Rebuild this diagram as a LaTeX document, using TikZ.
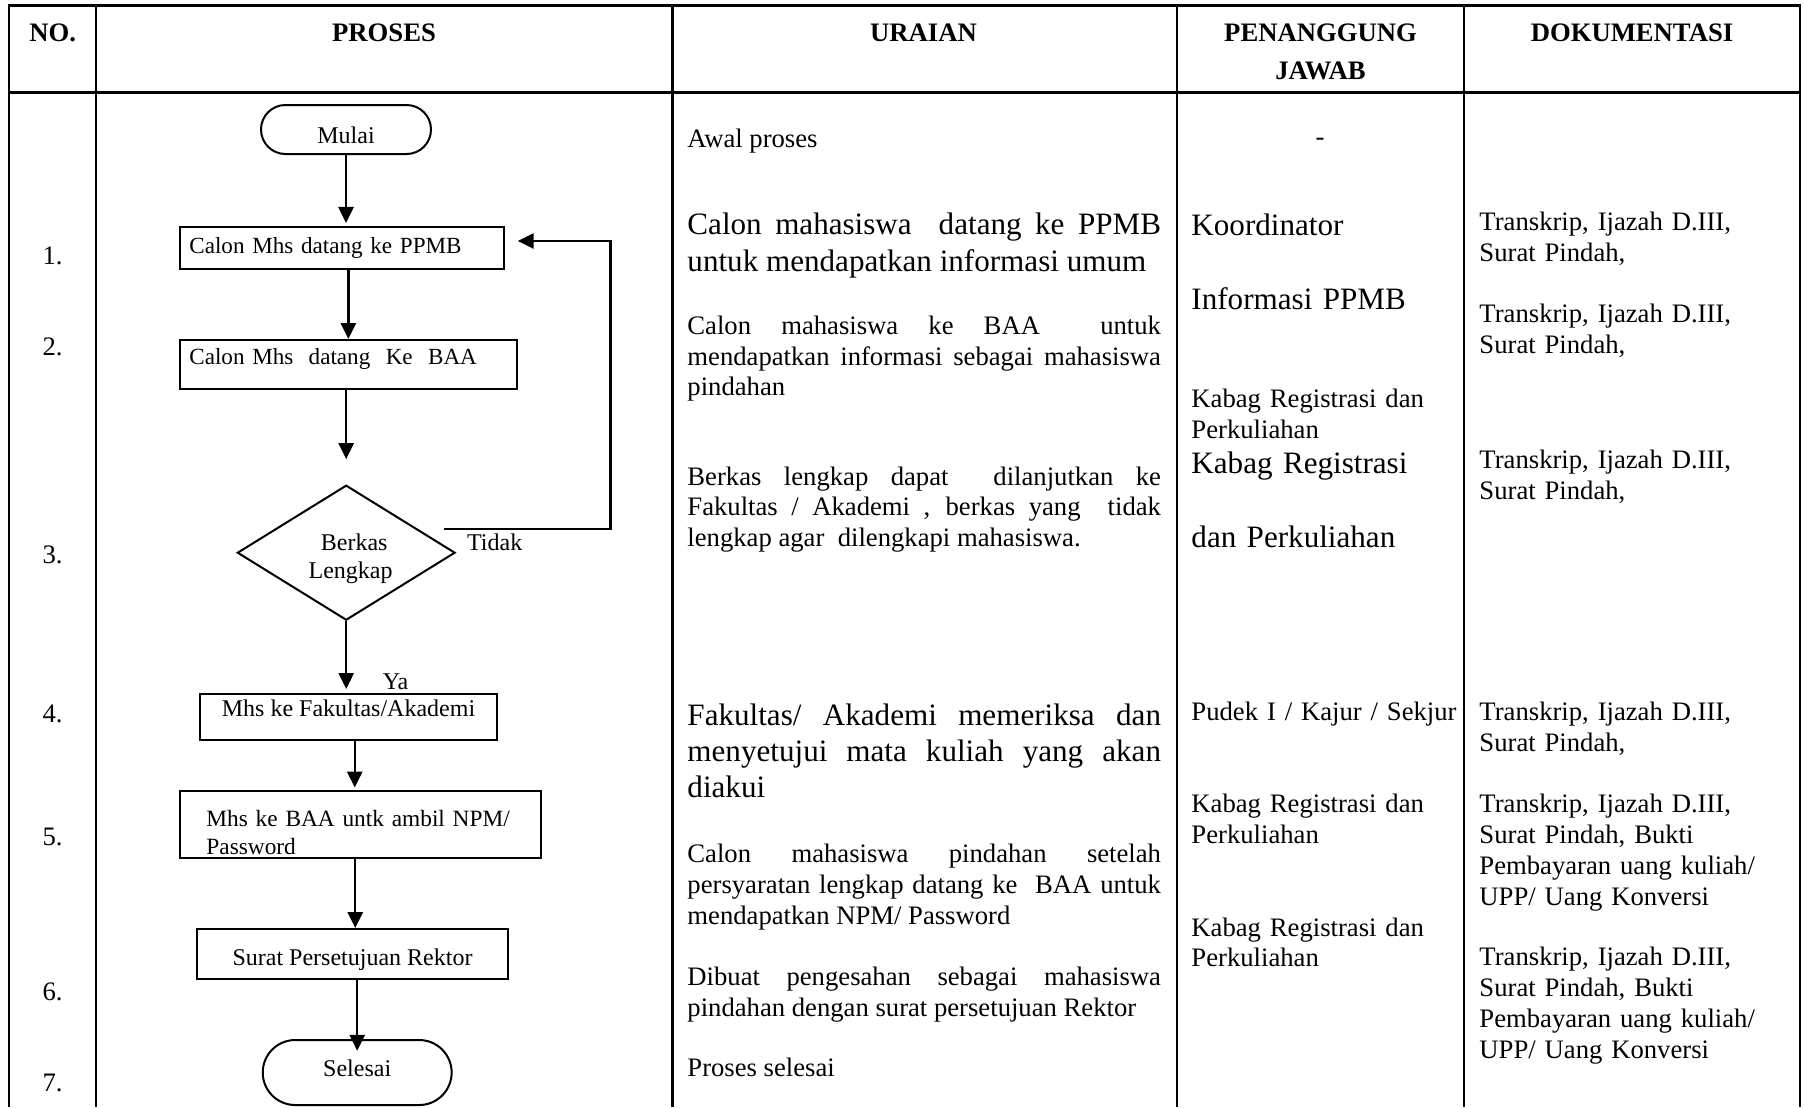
\documentclass[tikz,border=0pt]{standalone}
\usepackage{fontspec}
\setmainfont{Liberation Serif}
\usetikzlibrary{arrows.meta,shapes.geometric}
\tolerance=10000
\hbadness=10000
\tikzset{
  tline/.style={line width=1.2pt},
  fbox/.style={draw, line width=0.9pt, inner ysep=0pt, font=\fontsize{10.8}{12.7}\selectfont},
  termbox/.style={fbox, rounded corners=#1},
  flow/.style={line width=1.1pt, -{Triangle[length=7.2pt,width=6.8pt]}},
  numtxt/.style={anchor=base, inner sep=0pt, font=\fontsize{12}{13.9}\selectfont},
  headtxt/.style={anchor=base, inner sep=0pt, font=\bfseries\fontsize{12}{13.9}\selectfont},
  ptext/.style={anchor=base west, inner sep=0pt, align=justify, text width=213.1pt, font=\fontsize{12}{13.9}\selectfont},
  plarge/.style={ptext, font=\fontsize{14}{16.7}\selectfont},
  pjtxt/.style={anchor=base west, inner sep=0pt, align=left, text width=126pt, font=\fontsize{12}{13.9}\selectfont},
  pjlarge/.style={pjtxt, font=\fontsize{14}{16.7}\selectfont},
  doktxt/.style={anchor=base west, inner sep=0pt, align=left, text width=144pt, font=\fontsize{12}{13.9}\selectfont},
  flabel/.style={anchor=base west, inner sep=0pt, font=\fontsize{10.8}{12.7}\selectfont}
}
\begin{document}
\begin{tikzpicture}[x=0.45pt,y=-0.45pt]
\useasboundingbox (0,0) rectangle (1804,1107);

% table rules
\draw[tline] (9,1107) -- (9,5.7) -- (1800,5.7) -- (1800,1107);
\draw[tline] (9,92.3) -- (1800,92.3);
\draw[tline] (96,5.7) -- (96,1107);
\draw[tline] (672.5,5.7) -- (672.5,1107);
\draw[tline] (1177,5.7) -- (1177,1107);
\draw[tline] (1464,5.7) -- (1464,1107);

% headers
\node[headtxt] (hno) at (52.8,41.7) {NO.};
\node[headtxt] (hproses) at (384,41.7) {PROSES};
\node[headtxt] (huraian) at (923.5,41.7) {URAIAN};
\node[headtxt] (hpja) at (1320.5,41.7) {PENANGGUNG};
\node[headtxt] (hpjb) at (1320.5,79) {JAWAB};
\node[headtxt] (hdok) at (1632,41.7) {DOKUMENTASI};

% numbers
\node[numtxt] (n1) at (52.5,264.3) {1.};
\node[numtxt] (n2) at (52.5,355.3) {2.};
\node[numtxt] (n3) at (52.5,563.8) {3.};
\node[numtxt] (n4) at (52.5,722.1) {4.};
\node[numtxt] (n5) at (52.5,845.3) {5.};
\node[numtxt] (n6) at (52.5,1000.8) {6.};
\node[numtxt] (n7) at (52.5,1091.8) {7.};

% flowchart
\node[termbox=11pt, minimum width=76.5pt, minimum height=22.05pt, text height=12.4pt, text depth=0pt] (mulai) at (346,129.5) {Mulai};
\node[fbox, font=\fontsize{10.4}{12.5}\selectfont, minimum width=145.9pt, minimum height=18.8pt, text width=137.5pt, inner xsep=4.2pt, align=left, text height=8pt, text depth=3.2pt] (ppmb) at (342.15,248.15) {Calon Mhs datang ke PPMB};
\node[fbox, font=\fontsize{10.4}{12.5}\selectfont, minimum width=151.5pt, minimum height=22.05pt, text width=143.1pt, inner xsep=4.2pt, align=left, text height=5.5pt, text depth=5.1pt] (baa) at (348.35,364.5) {Calon Mhs\ \ datang\ \ Ke\ \ BAA};
\node[draw, diamond, aspect=1.6, line width=0.9pt, minimum width=98pt, minimum height=60.75pt, inner sep=0pt, text width=46pt, align=center, font=\fontsize{10.8}{12.4}\selectfont, text height=7.4pt, text depth=9.2pt] (dia) at (346.2,552.7) {\hspace*{7.2pt}Berkas\\\hspace*{4pt}Lengkap};
\node[fbox, minimum width=133.65pt, minimum height=20.7pt, text height=5pt, text depth=5.9pt] (fak) at (348.5,717) {Mhs ke Fakultas/Akademi};
\node[fbox, font=\fontsize{10.5}{12.7}\selectfont, minimum width=162.3pt, minimum height=30.4pt, text width=150.3pt, inner xsep=6pt, align=left, text height=14.7pt, text depth=12.7pt] (npm) at (360.35,824.5) {\hspace*{5.9pt}Mhs ke BAA untk ambil NPM/\\\hspace*{5.9pt}Password};
\node[fbox, minimum width=140.2pt, minimum height=22.6pt, text height=9.8pt, text depth=0pt] (rektor) at (352.5,954.15) {Surat Persetujuan Rektor};
\node[termbox=14.6pt, minimum width=85pt, minimum height=29.25pt, text height=7.4pt, text depth=4.2pt] (selesai) at (357.2,1072.5) {Selesai};

\node[flabel] (tidak) at (466.7,550.7) {Tidak};
\node[flabel] (ya) at (382.3,689.3) {Ya};

\draw[flow, shorten >=1.5pt] (mulai.south) -- (mulai.south |- ppmb.north);
\draw[flow] (baa.north |- ppmb.south) -- (baa.north);
\draw[flow, shorten >=11.25pt] (dia.north |- baa.south) -- (dia.north);
\draw[flow, shorten >=1.8pt] (dia.south) -- (dia.south |- fak.north);
\draw[flow, shorten >=1pt] ([xshift=2.8pt]fak.south) -- ([xshift=2.8pt]fak.south |- npm.north);
\draw[flow] ([xshift=-2.3pt]npm.south) -- ([xshift=-2.3pt]npm.south |- rektor.north);
\draw[flow, shorten >=-5.3pt] (rektor.south -| selesai.north) -- (selesai.north);

\coordinate (tstart) at (444.3,529);
\coordinate (tcorner) at (610.5,241);
\draw[flow, shorten >=5.6pt] (tstart) -| (tcorner) -- (tcorner -| ppmb.east);

% uraian
\node[ptext] (u0) at (687,147) {Awal proses};
\node[plarge] (u1) at (687,234.7) {Calon mahasiswa\ \ datang ke PPMB\linebreak untuk mendapatkan informasi umum};
\node[ptext] (u2) at (687,334.2) {Calon mahasiswa ke BAA\ \ untuk\linebreak mendapatkan informasi sebagai mahasiswa\linebreak pindahan};
\node[ptext] (u3) at (687,485) {Berkas lengkap dapat\ \ dilanjutkan ke\linebreak Fakultas / Akademi , berkas yang\ \ tidak\linebreak lengkap agar\ \ dilengkapi mahasiswa.};
\node[plarge, font=\fontsize{14}{16.25}\selectfont] (u4) at (687,725.7) {Fakultas/ Akademi memeriksa dan\linebreak menyetujui mata kuliah yang akan\linebreak diakui};
\node[ptext] (u5) at (687,862.3) {Calon mahasiswa pindahan setelah\linebreak persyaratan lengkap datang ke\ \ BAA untuk\linebreak mendapatkan NPM/ Password};
\node[ptext] (u6) at (687,985.5) {Dibuat pengesahan sebagai mahasiswa\linebreak pindahan dengan surat persetujuan Rektor};
\node[ptext] (u7) at (687,1076.3) {Proses selesai};

% penanggung jawab
\node[numtxt] (pj0) at (1320,145.7) {-};
\node[pjlarge] (pj1) at (1191,235.5) {Koordinator};
\node[pjlarge] (pj2) at (1191,309) {Informasi PPMB};
\node[pjtxt] (pj3) at (1191,407.9) {Kabag Registrasi dan\\Perkuliahan};
\node[pjlarge] (pj4) at (1191,473.5) {Kabag Registrasi};
\node[pjlarge] (pj5) at (1191,547.1) {dan Perkuliahan};
\node[pjtxt] (pj6) at (1191,720.8) {Pudek I / Kajur / Sekjur};
\node[pjtxt] (pj7) at (1191,812.9) {Kabag Registrasi dan\\Perkuliahan};
\node[pjtxt] (pj8) at (1191,936) {Kabag Registrasi dan\\Perkuliahan};

% dokumentasi
\node[doktxt] (d1) at (1479,230.7) {Transkrip, Ijazah D.III,\\Surat Pindah,};
\node[doktxt] (d2) at (1479,322.7) {Transkrip, Ijazah D.III,\\Surat Pindah,};
\node[doktxt] (d3) at (1479,468.9) {Transkrip, Ijazah D.III,\\Surat Pindah,};
\node[doktxt] (d4) at (1479,720.8) {Transkrip, Ijazah D.III,\\Surat Pindah,};
\node[doktxt] (d5) at (1479,812.9) {Transkrip, Ijazah D.III,\\Surat Pindah, Bukti\\Pembayaran uang kuliah/\\UPP/ Uang Konversi};
\node[doktxt] (d6) at (1479,965.9) {Transkrip, Ijazah D.III,\\Surat Pindah, Bukti\\Pembayaran uang kuliah/\\UPP/ Uang Konversi};
\end{tikzpicture}
\end{document}
